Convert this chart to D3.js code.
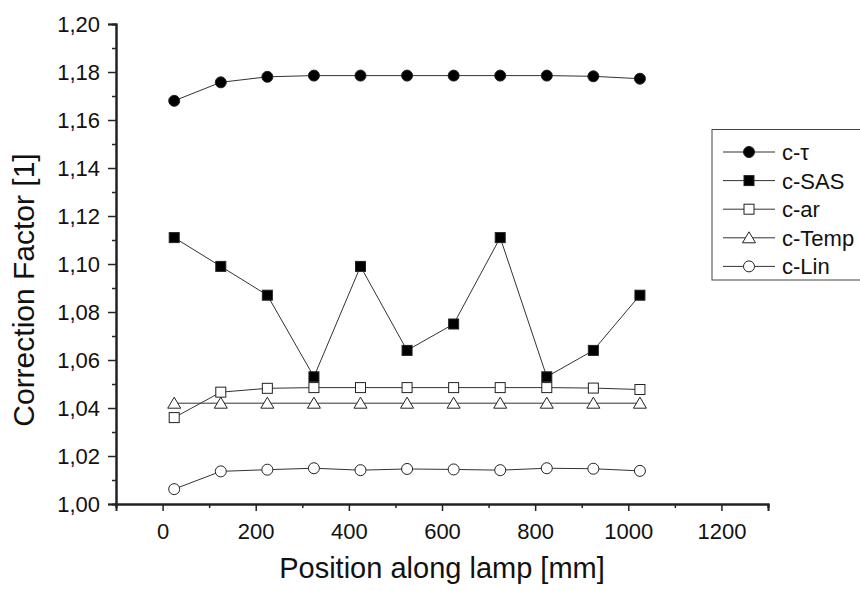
<!DOCTYPE html>
<html><head><meta charset="utf-8">
<script src="https://cdn.jsdelivr.net/npm/d3@7"></script>
<style>body{margin:0;background:#fff}svg{display:block}text{font-family:"Liberation Sans",Arial,sans-serif;fill:#111}</style>
</head><body><svg id="c" width="860" height="591"></svg>
<script>
const positions=[25,125,225,325,425,525,625,725,825,925,1025];
const cTau=[1.168,1.1757,1.178,1.1785,1.1785,1.1785,1.1785,1.1785,1.1785,1.1782,1.1772];
const cSAS=[1.111,1.099,1.087,1.053,1.099,1.064,1.075,1.111,1.053,1.064,1.087];
const cAr=[1.036,1.0466,1.0482,1.0485,1.0485,1.0485,1.0485,1.0485,1.0485,1.0483,1.0477];
const cTemp=[1.042,1.042,1.042,1.042,1.042,1.042,1.042,1.042,1.042,1.042,1.042];
const cLin=[1.0062,1.0136,1.0143,1.0149,1.0141,1.0146,1.0144,1.0141,1.0149,1.0147,1.0138];
const seriesNames=["c-τ","c-SAS","c-ar","c-Temp","c-Lin"];
const xTicks=[0,200,400,600,800,1000,1200];
const yTicks=[1.00,1.02,1.04,1.06,1.08,1.10,1.12,1.14,1.16,1.18,1.20];
const xTitle="Position along lamp [mm]", yTitle="Correction Factor [1]";

const series=[
 {name:seriesNames[0],v:cTau,sym:"circle",fill:"#000"},
 {name:seriesNames[1],v:cSAS,sym:"square",fill:"#000"},
 {name:seriesNames[2],v:cAr,sym:"square",fill:"#fff"},
 {name:seriesNames[3],v:cTemp,sym:"triangle",fill:"#fff"},
 {name:seriesNames[4],v:cLin,sym:"circle",fill:"#fff"}];

const svg=d3.select("#c");
const x=d3.scaleLinear().domain([-100,1300]).range([116,768]);
const y=d3.scaleLinear().domain([1.0,1.2]).range([504,24]);
const fmt=d=>d3.format(".2f")(d).replace(".",",");

const gx=svg.append("g").attr("transform","translate(0,504)");
gx.call(d3.axisBottom(x).tickValues(d3.range(-100,1301,100).filter(v=>v%200!==0)).tickSize(4).tickFormat(""));
gx.append("g").call(d3.axisBottom(x).tickValues(xTicks).tickSize(7).tickFormat(d=>d).tickPadding(12));
const gy=svg.append("g").attr("transform","translate(116,0)");
gy.call(d3.axisLeft(y).tickValues(d3.range(1.01,1.2,0.02)).tickSize(4).tickFormat(""));
gy.append("g").call(d3.axisLeft(y).tickValues(yTicks).tickSize(8).tickFormat(fmt).tickPadding(8));
svg.selectAll(".domain").attr("stroke","#222").attr("stroke-width",2);
svg.selectAll(".tick line").attr("stroke","#222").attr("stroke-width",1.5);
svg.selectAll(".tick text").attr("font-size",22).attr("font-family","Liberation Sans, Arial").attr("fill","#111");

svg.append("text").attr("x",442).attr("y",578).attr("text-anchor","middle").attr("font-size",29).text(xTitle);
svg.append("text").attr("transform","translate(34,290) rotate(-90)").attr("text-anchor","middle").attr("font-size",30).text(yTitle);

function drawSym(g,s,cx,cy){
  if(s.sym==="circle") g.append("circle").attr("cx",cx).attr("cy",cy).attr("r",5.5).attr("fill",s.fill).attr("stroke","#222").attr("stroke-width",1);
  else if(s.sym==="square") g.append("rect").attr("x",cx-5).attr("y",cy-5).attr("width",10).attr("height",10).attr("fill",s.fill).attr("stroke","#222").attr("stroke-width",1);
  else g.append("path").attr("d",`M${cx},${cy-6}L${cx+6.5},${cy+5}L${cx-6.5},${cy+5}Z`).attr("fill",s.fill).attr("stroke","#222").attr("stroke-width",1);
}
const line=d3.line().x((d,i)=>x(positions[i])).y(d=>y(d));
series.forEach(s=>{
  svg.append("path").attr("d",line(s.v)).attr("fill","none").attr("stroke","#333").attr("stroke-width",1);
});
series.forEach(s=>{
  const g=svg.append("g");
  s.v.forEach((d,i)=>drawSym(g,s,x(positions[i]),y(d)));
});

svg.append("rect").attr("x",712).attr("y",129.5).attr("width",170).attr("height",150.5).attr("fill","#fff").attr("stroke","#444").attr("stroke-width",1);
series.forEach((s,i)=>{
  const ly=152+i*28.6;
  const g=svg.append("g");
  g.append("line").attr("x1",723).attr("x2",775).attr("y1",ly).attr("y2",ly).attr("stroke","#333").attr("stroke-width",1);
  drawSym(g,s,749,ly);
  g.append("text").attr("x",782).attr("y",ly).attr("dy","0.36em").attr("font-size",22).text(s.name);
});
</script></body></html>
